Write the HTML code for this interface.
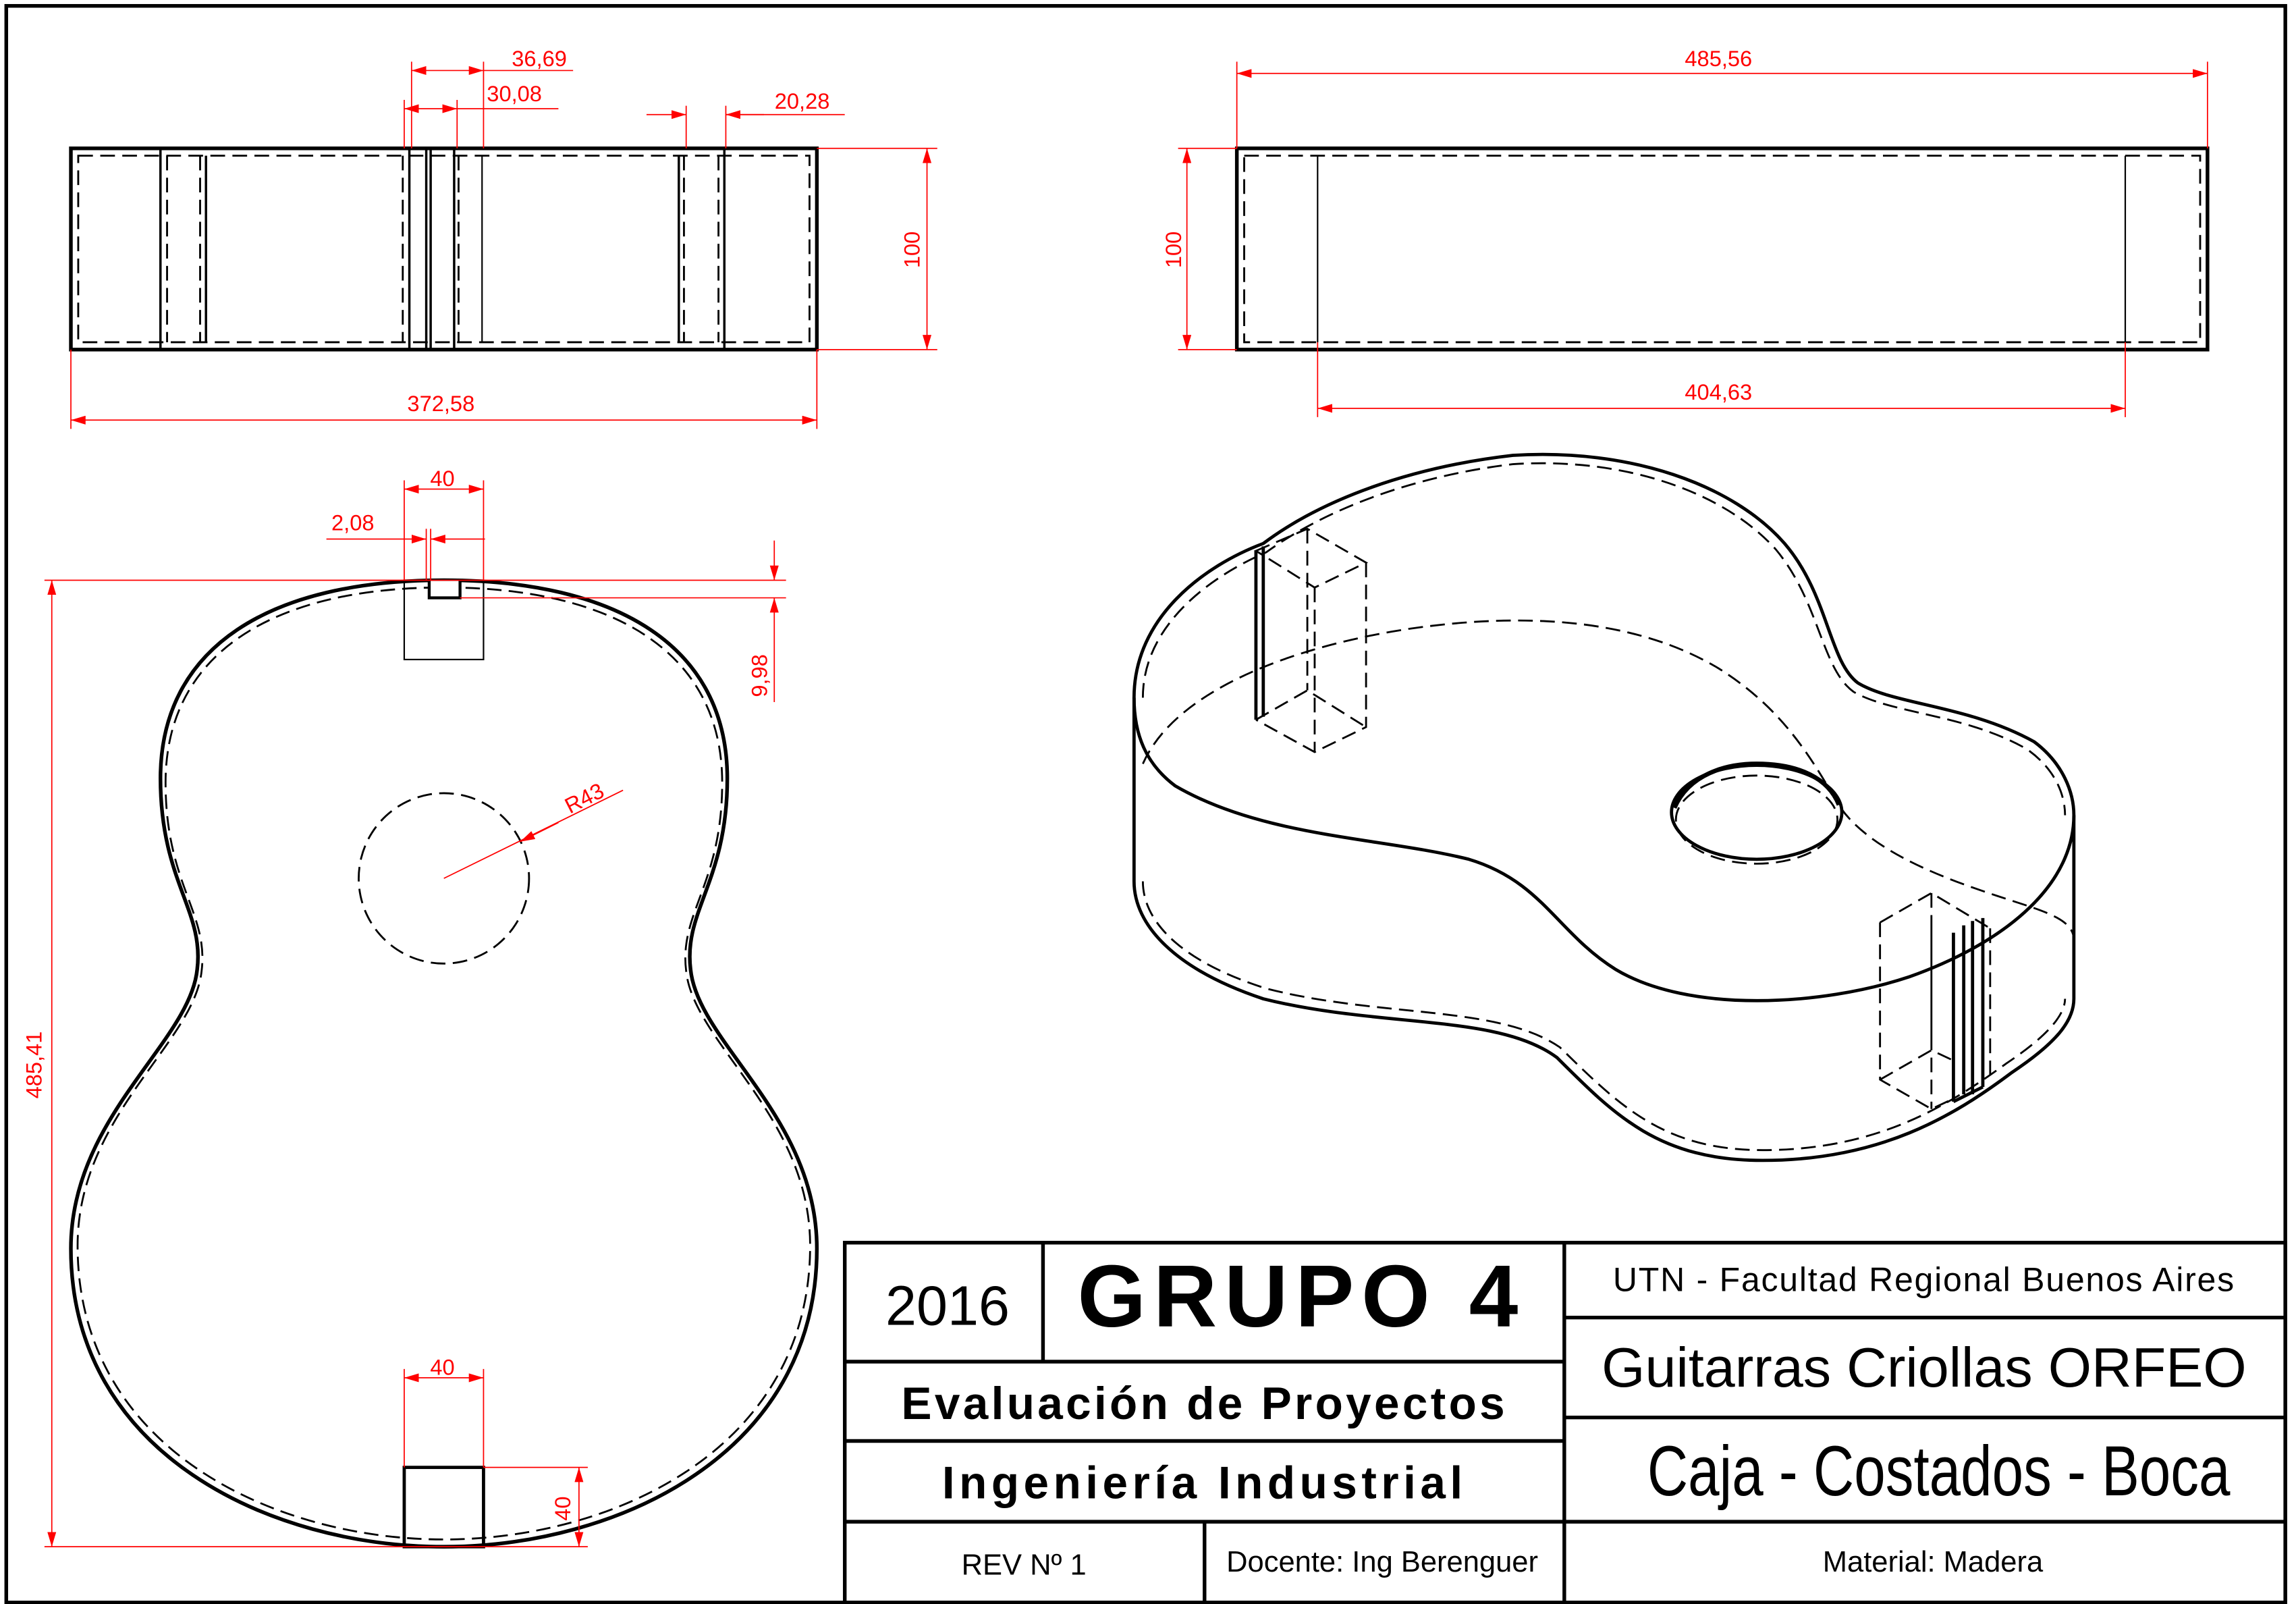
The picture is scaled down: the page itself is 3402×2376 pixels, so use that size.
<!DOCTYPE html>
<html><head><meta charset="utf-8"><style>
html,body{margin:0;padding:0;background:#fff;}
svg{display:block;}
text{font-family:"Liberation Sans",sans-serif;}
</style></head><body>
<svg width="3402" height="2376" viewBox="0 0 1563 1092" xmlns="http://www.w3.org/2000/svg">
<defs>
<marker id="a" markerWidth="10" markerHeight="6" refX="10" refY="3" orient="auto-start-reverse" markerUnits="userSpaceOnUse"><path d="M0,0 L10,3 L0,6 z" fill="red"/></marker>
<path id="g" d="M302,395 C420,395 495,440 495,530 C495,600 465,620 470,660 C475,710 556,760 556,850 C556,990 420,1053 302,1053 C184,1053 48,990 48,850 C48,760 129,710 134,660 C139,620 109,600 109,530 C109,440 184,395 302,395 Z"/>
</defs>
<rect x="4" y="4" width="1552" height="1087" fill="none" stroke="#000" stroke-width="2.5"/>

<g fill="none" stroke="#000">
<rect x="48" y="101" width="508" height="137" stroke-width="2.5"/>
<rect x="53" y="106" width="498" height="127" stroke-width="1.3" stroke-dasharray="10,5"/>
<g stroke-width="1.6"><line x1="109" y1="101" x2="109" y2="238"/><line x1="140" y1="106" x2="140" y2="233"/><line x1="278.5" y1="101" x2="278.5" y2="238"/><line x1="290" y1="101" x2="290" y2="238"/><line x1="293" y1="101" x2="293" y2="238"/><line x1="309" y1="101" x2="309" y2="238"/><line x1="328" y1="106" x2="328" y2="233" stroke-width="1"/><line x1="462" y1="106" x2="462" y2="233"/><line x1="493" y1="101" x2="493" y2="238"/></g>
<g stroke-width="1.3" stroke-dasharray="10,5"><line x1="113.5" y1="106" x2="113.5" y2="233"/><line x1="136" y1="106" x2="136" y2="233"/><line x1="274" y1="106" x2="274" y2="233"/><line x1="312" y1="106" x2="312" y2="233"/><line x1="465.5" y1="106" x2="465.5" y2="233"/><line x1="489" y1="106" x2="489" y2="233"/></g>
</g>
<g stroke="red" stroke-width="0.8" fill="none">
<line x1="280" y1="42" x2="280" y2="101"/><line x1="329" y1="42" x2="329" y2="101"/>
<line x1="280" y1="48" x2="329" y2="48" marker-start="url(#a)" marker-end="url(#a)"/><line x1="329" y1="48" x2="390" y2="48"/>
<line x1="275" y1="68" x2="275" y2="101"/><line x1="311" y1="68" x2="311" y2="101"/>
<line x1="275" y1="74" x2="311" y2="74" marker-start="url(#a)" marker-end="url(#a)"/><line x1="311" y1="74" x2="380" y2="74"/>
<line x1="467" y1="72" x2="467" y2="101"/><line x1="494" y1="72" x2="494" y2="101"/>
<line x1="440" y1="78" x2="467" y2="78" marker-end="url(#a)"/><line x1="494" y1="78" x2="575" y2="78"/><line x1="520" y1="78" x2="494" y2="78" marker-end="url(#a)"/>
<line x1="556" y1="101" x2="638" y2="101"/><line x1="556" y1="238" x2="638" y2="238"/>
<line x1="631" y1="101" x2="631" y2="238" marker-start="url(#a)" marker-end="url(#a)"/>
<line x1="48" y1="238" x2="48" y2="292"/><line x1="556" y1="238" x2="556" y2="292"/>
<line x1="48" y1="286" x2="556" y2="286" marker-start="url(#a)" marker-end="url(#a)"/>
</g>
<g fill="red" font-size="15">
<text x="367" y="45" text-anchor="middle">36,69</text>
<text x="350" y="69" text-anchor="middle">30,08</text>
<text x="546" y="74" text-anchor="middle">20,28</text>
<text x="300" y="280" text-anchor="middle">372,58</text>
<text transform="translate(626,170) rotate(-90)" text-anchor="middle">100</text>
</g>

<g fill="none" stroke="#000">
<rect x="842" y="101" width="661" height="137" stroke-width="2.5"/>
<rect x="847" y="106" width="651" height="127" stroke-width="1.3" stroke-dasharray="10,5"/>
<line x1="897" y1="106" x2="897" y2="233" stroke-width="1"/><line x1="1447" y1="106" x2="1447" y2="233" stroke-width="1"/>
</g>
<g stroke="red" stroke-width="0.8" fill="none">
<line x1="842" y1="42" x2="842" y2="101"/><line x1="1503" y1="42" x2="1503" y2="101"/>
<line x1="842" y1="50" x2="1503" y2="50" marker-start="url(#a)" marker-end="url(#a)"/>
<line x1="802" y1="101" x2="842" y2="101"/><line x1="802" y1="238" x2="842" y2="238"/>
<line x1="808" y1="101" x2="808" y2="238" marker-start="url(#a)" marker-end="url(#a)"/>
<line x1="897" y1="233" x2="897" y2="284"/><line x1="1447" y1="233" x2="1447" y2="284"/>
<line x1="897" y1="278" x2="1447" y2="278" marker-start="url(#a)" marker-end="url(#a)"/>
</g>
<g fill="red" font-size="15">
<text x="1170" y="45" text-anchor="middle">485,56</text>
<text x="1170" y="272" text-anchor="middle">404,63</text>
<text transform="translate(804,170) rotate(-90)" text-anchor="middle">100</text>
</g>

<use href="#g" fill="none" stroke="#000" stroke-width="2.5"/>
<use href="#g" fill="none" stroke="#000" stroke-width="1.3" stroke-dasharray="10,5" transform="translate(302,724) scale(0.982,0.985) translate(-302,-724)"/>
<path d="M292,395 L292,407 L313,407 L313,395" fill="#fff" stroke="#000" stroke-width="2"/>
<rect x="275" y="395" width="54" height="54" fill="none" stroke="#000" stroke-width="1"/>
<rect x="275" y="999" width="54" height="54" fill="none" stroke="#000" stroke-width="2.2"/>
<circle cx="302" cy="598" r="58" fill="none" stroke="#000" stroke-width="1.3" stroke-dasharray="10,5"/>
<g stroke="red" stroke-width="0.8" fill="none">
<line x1="302" y1="598" x2="424" y2="538"/><line x1="380" y1="560" x2="354" y2="573" marker-end="url(#a)"/>
<line x1="275" y1="327" x2="275" y2="395"/><line x1="329" y1="327" x2="329" y2="395"/>
<line x1="275" y1="333" x2="329" y2="333" marker-start="url(#a)" marker-end="url(#a)"/>
<line x1="290" y1="360" x2="290" y2="395"/><line x1="293" y1="360" x2="293" y2="395"/>
<line x1="222" y1="367" x2="290" y2="367" marker-end="url(#a)"/><line x1="330" y1="367" x2="293" y2="367" marker-end="url(#a)"/>
<line x1="30" y1="395" x2="535" y2="395"/><line x1="313" y1="407" x2="535" y2="407"/>
<line x1="527" y1="368" x2="527" y2="395" marker-end="url(#a)"/><line x1="527" y1="478" x2="527" y2="407" marker-end="url(#a)"/>
<line x1="30" y1="1053" x2="400" y2="1053"/><line x1="329" y1="999" x2="400" y2="999"/>
<line x1="35" y1="395" x2="35" y2="1053" marker-start="url(#a)" marker-end="url(#a)"/>
<line x1="275" y1="932" x2="275" y2="999"/><line x1="329" y1="932" x2="329" y2="999"/>
<line x1="275" y1="938" x2="329" y2="938" marker-start="url(#a)" marker-end="url(#a)"/>
<line x1="394" y1="999" x2="394" y2="1053" marker-start="url(#a)" marker-end="url(#a)"/>
</g>
<g fill="red" font-size="15">
<text x="301" y="331" text-anchor="middle">40</text>
<text x="240" y="361" text-anchor="middle">2,08</text>
<text x="301" y="936" text-anchor="middle">40</text>
<text transform="translate(522,460) rotate(-90)" text-anchor="middle">9,98</text>
<text transform="translate(28,725) rotate(-90)" text-anchor="middle">485,41</text>
<text transform="translate(388,1027) rotate(-90)" text-anchor="middle">40</text>
<text transform="translate(400,548) rotate(-27)" text-anchor="middle">R43</text>
</g>

<g fill="none" stroke="#000" stroke-width="2.2">
<path d="M772,475 C772,420 820,385 860,370 C900,340 960,318 1030,310 C1110,305 1180,330 1215,370 C1245,405 1245,450 1265,465 C1290,480 1340,480 1385,505 C1405,520 1412,540 1412,555 C1412,600 1370,640 1300,665 C1240,685 1150,690 1100,660 C1060,635 1050,600 1000,585 C940,570 860,570 800,535 C780,520 772,500 772,475 Z"/>
<path d="M772,475 L772,600 M1412,555 L1412,680"/>
<path d="M772,600 C772,630 800,660 860,680 C940,700 1020,690 1060,720 C1100,760 1130,790 1200,790 C1280,790 1330,760 1370,730 C1400,710 1412,695 1412,680"/>
<ellipse cx="1196" cy="553" rx="58" ry="32"/>
<path d="M1140,550 C1150,527 1175,520 1196,520 C1225,520 1245,530 1252,548" stroke-width="3"/>
<path d="M855,375 L855,490 M860,372 L860,488"/>
<path d="M1330,635 L1330,750 M1337,630 L1337,745 M1343,627 L1343,745 M1350,625 L1350,740 M1330,750 L1350,740"/>
</g>
<g fill="none" stroke="#000" stroke-width="1.3" stroke-dasharray="10,5">
<path d="M778,475 C778,425 825,392 862,376 C902,347 962,324 1030,316 C1108,311 1175,336 1209,374 C1239,410 1240,455 1262,471 C1288,486 1338,486 1380,510 C1400,524 1406,542 1406,555"/>
<path d="M778,520 C800,470 880,440 960,428 C1050,415 1120,425 1170,455 C1210,480 1230,510 1250,545 C1270,580 1330,600 1360,610 C1390,620 1412,625 1412,640"/>
<path d="M778,600 C778,628 805,655 862,673 C940,693 1020,684 1062,713 C1102,752 1132,783 1200,783 C1278,783 1326,753 1366,724 C1396,704 1406,690 1406,680"/>
<ellipse cx="1196" cy="558" rx="55" ry="30"/>
<path d="M855,375 L890,360 L930,383 L895,400 Z M895,400 L895,512 M930,383 L930,495 L895,512 L855,490 M855,490 L890,470 L930,495 M890,360 L890,470"/>
<path d="M1280,628 L1315,608 L1355,632 M1280,628 L1280,735 L1315,755 L1330,748 M1315,630 L1315,755 M1280,735 L1315,715 L1330,722 M1315,608 L1315,715 M1355,632 L1355,735"/>
</g>

<g fill="none" stroke="#000" stroke-width="2.5">
<rect x="575" y="846" width="981" height="245"/>
<line x1="710" y1="846" x2="710" y2="927"/>
<line x1="575" y1="927" x2="1065" y2="927"/>
<line x1="575" y1="981" x2="1065" y2="981"/>
<line x1="575" y1="1036" x2="1556" y2="1036"/>
<line x1="1065" y1="846" x2="1065" y2="1091"/>
<line x1="1065" y1="897" x2="1556" y2="897"/>
<line x1="1065" y1="965" x2="1556" y2="965"/>
<line x1="820" y1="1036" x2="820" y2="1091"/>
</g>
<g fill="#000">
<text x="645" y="902" font-size="38" text-anchor="middle">2016</text>
<text x="886" y="903" font-size="60" font-weight="bold" text-anchor="middle" letter-spacing="5">GRUPO 4</text>
<text x="820" y="966" font-size="31" font-weight="bold" text-anchor="middle" letter-spacing="2">Evaluación de Proyectos</text>
<text x="820" y="1020" font-size="31" font-weight="bold" text-anchor="middle" letter-spacing="3">Ingeniería Industrial</text>
<text x="697" y="1072" font-size="20" text-anchor="middle">REV Nº 1</text>
<text x="941" y="1070" font-size="20" text-anchor="middle">Docente: Ing Berenguer</text>
<text x="1310" y="879" font-size="23" text-anchor="middle" letter-spacing="0.8">UTN - Facultad Regional Buenos Aires</text>
<text x="1310" y="944" font-size="38" text-anchor="middle">Guitarras Criollas ORFEO</text>
<text x="1320" y="1018" font-size="48" text-anchor="middle" transform="translate(1320,0) scale(0.8,1) translate(-1320,0)">Caja - Costados - Boca</text>
<text x="1316" y="1070" font-size="20" text-anchor="middle">Material: Madera</text>
</g>
</svg>
</body></html>
